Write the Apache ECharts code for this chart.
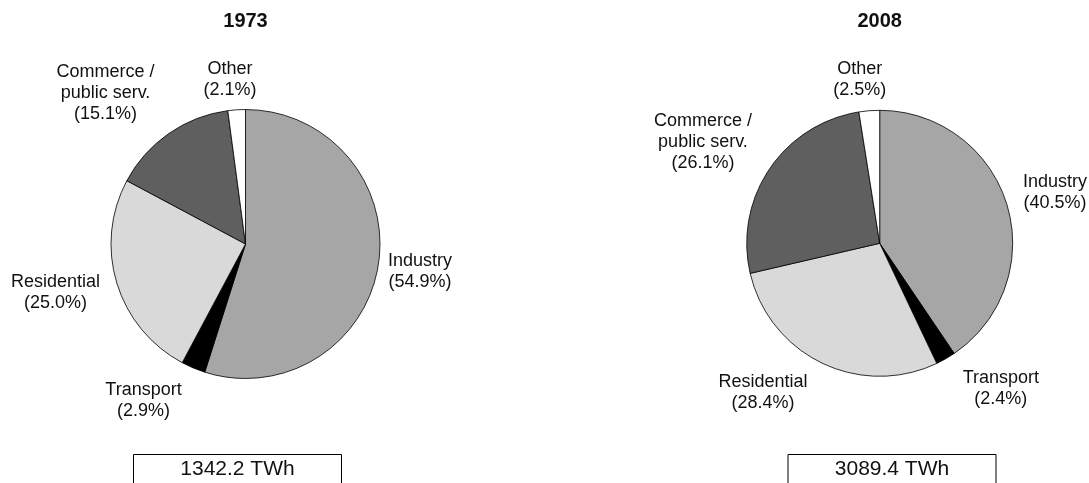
<!DOCTYPE html>
<html>
<head>
<meta charset="utf-8">
<script src="https://cdn.jsdelivr.net/npm/echarts@6/dist/echarts.min.js"></script>
<style>
  html, body { margin: 0; padding: 0; background: #fff; }
  #chart { width: 1089px; height: 483px; }
</style>
</head>
<body>
<div id="chart"></div>
<script>
// Final electricity consumption by sector, shares in percent
const sectors = ['Industry', 'Transport', 'Residential', 'Commerce /\npublic serv.', 'Other'];
const years = ['1973', '2008'];
const share1973 = [54.9, 2.9, 25.0, 15.1, 2.1];
const share2008 = [40.5, 2.4, 28.4, 26.1, 2.5];
const totalsTWh = [1342.2, 3089.4];

const sectorColors = ['#a6a6a6', '#000000', '#d9d9d9', '#5f5f5f', '#ffffff'];
const FONT = '"Liberation Sans", Arial, Helvetica, sans-serif';

// Layout of each pie in pixels; label placement is given as an angular
// turn (degrees) from the slice's mid-angle and a distance from the centre.
const pieLayout = [
  { cx: 245.5, cy: 244, r: 134.5, boxX: 237,
    labelTurn: [0.3, 10.3, 2.7, -8.1, -1.6],
    labelDist: [176.7, 186.4, 196, 205.9, 164.7] },
  { cx: 879.7, cy: 243.3, r: 133, boxX: 891.5,
    labelTurn: [1.0, -10.1, 12.2, -4.1, -2.5],
    labelDist: [182.4, 189.1, 189.6, 203.8, 164.5] }
];
const shares = [share1973, share2008];

function midAngles(values) {
  const sum = values.reduce((a, b) => a + b, 0);
  let acc = 0;
  return values.map(v => {
    const m = (acc + v / 2) / sum * 360;
    acc += v;
    return m;
  });
}

const chart = echarts.init(document.getElementById('chart'), null, { renderer: 'canvas' });

const series = shares.map((vals, si) => {
  const g = pieLayout[si];
  const mids = midAngles(vals);
  return {
    type: 'pie',
    center: [g.cx, g.cy],
    radius: g.r,
    startAngle: 90,
    clockwise: true,
    silent: true,
    animation: false,
    avoidLabelOverlap: false,
    itemStyle: { borderColor: '#000', borderWidth: 0.8 },
    label: {
      show: true,
      position: 'outside',
      fontFamily: FONT,
      fontSize: 18,
      lineHeight: 21,
      color: '#111',
      formatter: p => p.name + '\n(' + p.value.toFixed(1) + '%)'
    },
    labelLine: { show: false },
    labelLayout: function (p) {
      const i = p.dataIndex;
      const a = (mids[i] + g.labelTurn[i]) * Math.PI / 180;
      const d = g.labelDist[i];
      return {
        x: g.cx + d * Math.sin(a),
        y: g.cy - d * Math.cos(a),
        align: 'center',
        verticalAlign: 'middle'
      };
    },
    data: sectors.map((name, k) => ({
      name: name,
      value: vals[k],
      itemStyle: { color: sectorColors[k] }
    }))
  };
});

const titles = years.map((y, si) => ({
  text: y,
  left: pieLayout[si].cx,
  top: 11,
  textAlign: 'center',
  padding: 0,
  textStyle: { fontFamily: FONT, fontSize: 20, fontWeight: 'bold', color: '#111' }
}));

const boxes = totalsTWh.map((t, si) => ({
  type: 'group',
  silent: true,
  children: [
    {
      type: 'rect',
      shape: { x: pieLayout[si].boxX - 104 + 0.5, y: 454.5, width: 208, height: 60 },
      style: { fill: '#fff', stroke: '#000', lineWidth: 1 }
    },
    {
      type: 'text',
      style: {
        text: t.toFixed(1) + ' TWh',
        x: pieLayout[si].boxX + 0.5,
        y: 469,
        align: 'center',
        verticalAlign: 'middle',
        fontFamily: FONT,
        fontSize: 21,
        fill: '#111'
      }
    }
  ]
}));

chart.setOption({
  backgroundColor: '#fff',
  animation: false,
  title: titles,
  series: series,
  graphic: boxes
});
</script>
</body>
</html>
